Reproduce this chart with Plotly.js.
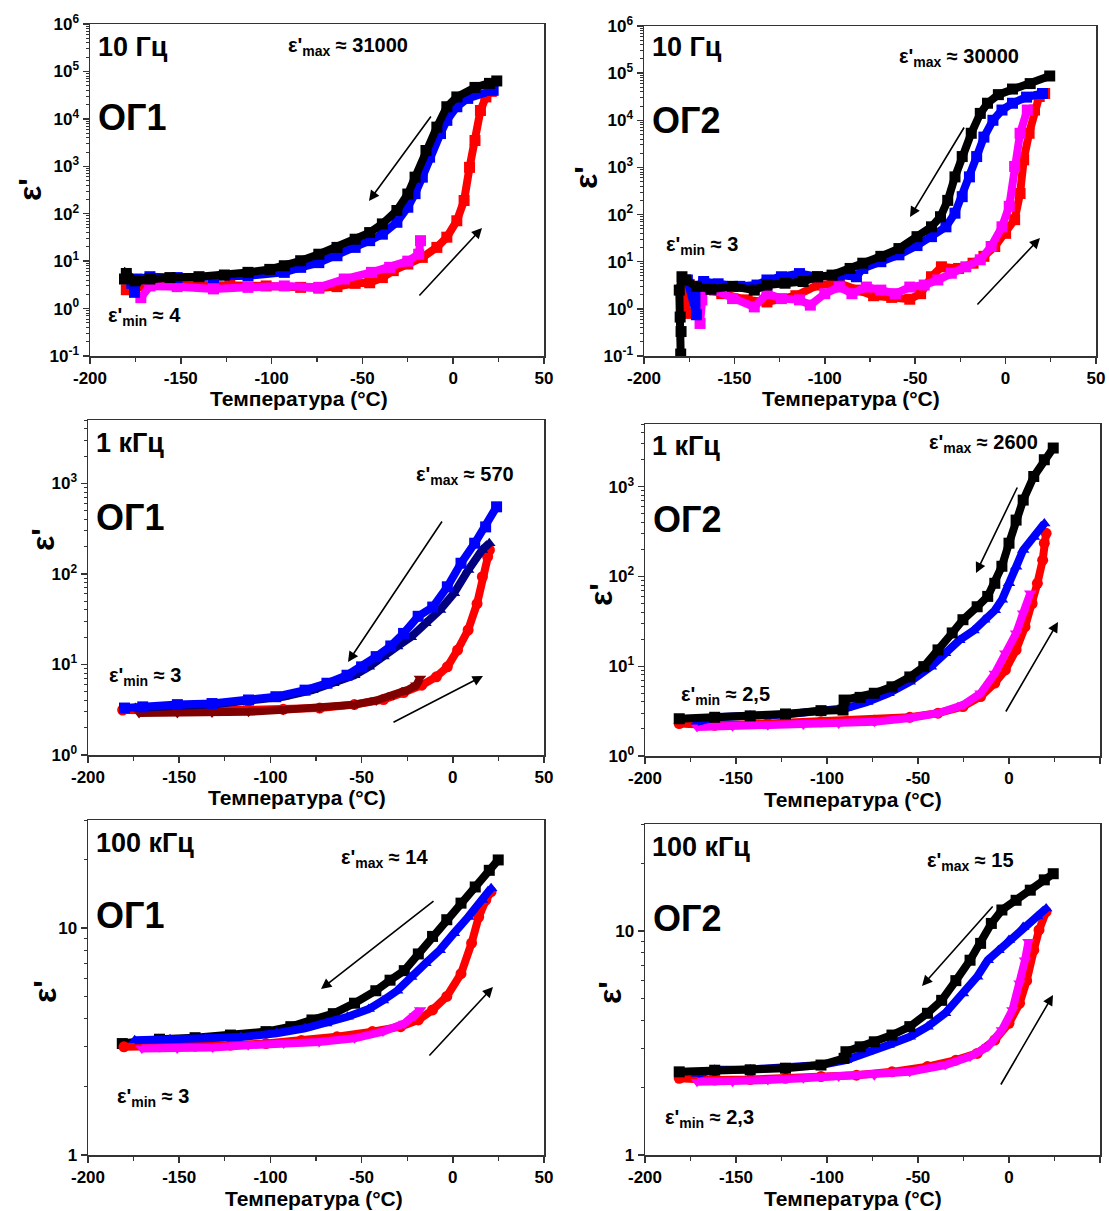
<!DOCTYPE html>
<html>
<head>
<meta charset="utf-8">
<script src="https://cdn.plot.ly/plotly-3.0.1.min.js"></script>
<style>html,body{margin:0;padding:0;background:#fff;}#chart{width:1109px;height:1211px;}</style>
</head>
<body>
<div id="chart"></div>
<script>
// ---------- DATA (temperature °C, ε') ----------
// Panel 1: 10 Гц, ОГ1
const tl_black_T = [24, 20, 12, 2, -3.5, -9, -15, -21, -25, -31, -39, -46, -54, -64, -74, -84, -93, -101, -113, -126, -140, -156, -167, -175, -180, -181];
const tl_black_E = [63000, 56000, 46000, 29000, 18000, 6700, 2150, 590, 260, 117, 61, 40, 29, 19.5, 14, 10.2, 8, 6.7, 5.8, 5.1, 4.7, 4.5, 4.2, 3.85, 5.5, 4.2];
const tl_blue_T = [22, 8, 2, -3.5, -7, -13, -17, -21, -25, -31, -39, -46, -54, -64, -74, -84, -93, -113, -132, -152, -167, -174, -175.5, -177];
const tl_blue_E = [40000, 27000, 18000, 9300, 4900, 1560, 590, 265, 137, 66, 37, 27, 19.5, 13, 9.3, 7.4, 5.8, 4.9, 4.5, 4.5, 4.7, 4.2, 2.2, 3.4];
const tl_red_T = [-180, -172, -162, -142, -123, -103, -84, -74, -64, -54, -46, -39, -33, -25, -17, -9, -3.5, 2, 6, 9, 12, 15, 18, 21];
const tl_red_E = [2.5, 3.0, 3.2, 3.2, 3.1, 3.0, 2.8, 2.7, 2.9, 3.4, 3.5, 4.5, 6.3, 8.7, 12, 19.5, 32, 71, 190, 950, 3500, 15000, 29000, 38000];
const tl_mag_T = [-172, -167, -152, -132, -113, -93, -74, -60, -45, -35, -25, -19, -18];
const tl_mag_E = [1.7, 3.0, 2.9, 2.6, 2.8, 3.0, 2.8, 4.2, 5.8, 7.4, 10, 14, 27];

// Panel 2: 10 Гц, ОГ2
const tr_black_T = [24.4, 13.6, 3.8, -4, -10, -14, -19, -24, -28, -32, -36, -41, -49, -59, -69, -79, -86, -96, -104, -112, -122, -132, -139, -151, -163, -171, -177, -179, -180.5, -180, -179.5, -179.7];
const tr_black_E = [87000, 60000, 46000, 35000, 23000, 14000, 5300, 1700, 630, 200, 90, 55, 34, 19, 13, 9.3, 7.2, 5.2, 4.8, 3.8, 3.5, 3.2, 2.5, 3.0, 2.6, 3.0, 4.1, 4.8, 2.5, 0.67, 0.33, 0.11];
const tr_blue_T = [20.4, 11.6, 3.8, -2, -7, -12, -16, -20, -24, -28, -33, -41, -49, -59, -69, -79, -82.5, -92, -104, -114, -124, -132, -137.5, -147, -159, -167, -171, -171, -176];
const tr_blue_E = [37000, 31000, 23000, 16500, 10000, 4400, 1700, 630, 240, 107, 55, 34, 22, 14, 10, 7.2, 4.8, 5.2, 4.8, 5.6, 4.8, 4.1, 3.2, 3.0, 3.4, 3.8, 3.0, 0.75, 4.1];
const tr_red_T = [-178, -177, -175, -167, -157, -143, -132, -116, -104, -92, -82.5, -73, -63, -53, -47, -41, -35.5, -26, -18, -12, -6, 0, 5, 8, 10, 13, 16, 18.6, 21.6];
const tr_red_E = [3.5, 0.8, 3.3, 2.6, 2.1, 1.55, 1.4, 1.9, 3.2, 3.5, 2.5, 1.9, 1.75, 1.6, 2.1, 4.8, 7.8, 7.2, 9.3, 13, 21, 40, 78, 280, 1450, 5300, 16500, 32000, 37000];
const tr_mag_T = [-169, -168, -167, -161, -151, -139, -132, -124, -114, -108, -100, -92, -85, -77, -69, -61, -53, -45, -37.5, -30, -22, -14, -8, -2, 2, 5, 8, 12];
const tr_mag_E = [0.49, 1.55, 3.5, 2.5, 1.65, 1.1, 2.1, 1.65, 1.55, 1.2, 2.1, 2.9, 2.1, 2.9, 2.5, 2.1, 2.9, 3.2, 4.1, 5.7, 7.8, 11, 21, 55, 150, 1050, 5300, 16500];

// Panel 3: 1 кГц, ОГ1
const ml_blue_T = [24, 18, 12, 4.5, -3, -11, -19, -27, -34, -42, -50, -58, -69, -81, -97, -112, -132, -151, -170, -180];
const ml_blue_E = [550, 330, 218, 131, 72, 43, 34, 22, 16, 12.2, 9.4, 7.6, 6.2, 5.2, 4.4, 4.05, 3.7, 3.6, 3.4, 3.3];
const ml_navy_T = [20, 16, 8.4, 0.6, -7, -15, -23, -30.5, -38, -46, -54, -65.5, -77, -93, -112, -132, -151, -174];
const ml_navy_E = [218, 183, 110, 61, 40, 28.5, 20, 15.8, 12.2, 9.4, 7.6, 6.2, 5.2, 4.4, 3.9, 3.6, 3.5, 3.3];
const ml_red_T = [-181, -170, -151, -132, -112, -93, -73, -54, -38, -27, -17, -9, -3, 2.6, 8.4, 13.3, 16.2, 19.1, 20.1];
const ml_red_E = [3.14, 3.1, 3.1, 3.1, 3.15, 3.2, 3.3, 3.6, 4.1, 4.9, 5.9, 7.3, 9.4, 14.4, 24, 47, 93, 155, 183];
const ml_maroon_T = [-172, -151, -132, -112, -93, -73, -54, -42, -32.5, -25, -20, -18];
const ml_maroon_E = [2.9, 2.9, 2.95, 3.0, 3.15, 3.3, 3.6, 4.0, 4.6, 5.2, 5.9, 7.0];

// Panel 4: 1 кГц, ОГ2
const mr_black_T = [24.3, 19.4, 13.6, 7.8, 3.9, 0, -3.9, -7.8, -11.7, -17.5, -25.3, -31.2, -39, -46.8, -54.5, -64.3, -74, -81.8, -90.6, -91.2, -103.3, -122.8, -142.2, -161.7, -181.2];
const mr_black_E = [2700, 2000, 1300, 710, 425, 235, 130, 84, 60, 46, 33, 23.5, 15.2, 9.9, 7.6, 5.9, 5.0, 4.5, 4.2, 3.25, 3.2, 2.94, 2.8, 2.7, 2.6];
const mr_blue_T = [19.4, 13.6, 7.8, 3.9, 0, -3.9, -7.8, -13.6, -19.5, -27.3, -35.1, -42.9, -54.5, -66.2, -77.9, -89.6, -103.3, -122.8, -142.2, -161.7, -171.4];
const mr_blue_E = [390, 275, 197, 128, 84, 55, 42, 33, 25, 19.5, 14, 9.9, 6.7, 5.0, 4.0, 3.4, 3.2, 2.9, 2.8, 2.7, 2.4];
const mr_red_T = [-181.2, -161.7, -132.5, -103.3, -74, -54.5, -39, -25.3, -15.6, -7.8, -2, 3.9, 8.8, 12.7, 15.6, 18.5, 19.4, 20.4];
const mr_red_E = [2.3, 2.2, 2.3, 2.4, 2.5, 2.7, 3.0, 3.55, 4.6, 6.5, 9.1, 15.2, 27.6, 50, 84, 152, 235, 303];
const mr_mag_T = [-171.4, -151.9, -132.5, -113, -93.6, -74, -54.5, -39, -25.3, -15.6, -7.8, -2, 3.9, 7.8, 11.7];
const mr_mag_E = [2.1, 2.15, 2.2, 2.25, 2.3, 2.4, 2.65, 3.0, 3.7, 5.0, 8.3, 14, 23.3, 39, 65];

// Panel 5: 100 кГц, ОГ1
const bl_black_T = [24.9, 20, 12.3, 4.5, -3.3, -11.1, -18.9, -26.6, -34.4, -42.2, -53.9, -65.5, -77.2, -88.8, -102.4, -121.9, -141.3, -160.8, -181.2];
const bl_black_E = [20, 18, 15.2, 12.9, 10.9, 9.2, 7.7, 6.5, 5.9, 5.3, 4.67, 4.2, 3.94, 3.68, 3.5, 3.38, 3.29, 3.24, 3.1];
const bl_blue_T = [21, 16.1, 8.4, 0.6, -7.2, -15, -22.8, -30.5, -38.3, -46.1, -57.7, -69.4, -81, -96.6, -116.1, -135.5, -155, -174.4];
const bl_blue_E = [15, 13.3, 11.2, 9.5, 8.0, 7.0, 6.1, 5.3, 4.8, 4.4, 4.07, 3.8, 3.62, 3.44, 3.31, 3.27, 3.24, 3.21];
const bl_red_T = [-180.3, -160.8, -141.3, -121.9, -102.4, -83, -63.5, -44.1, -28.6, -18.9, -11.1, -3.3, 4.5, 10.3, 14.2, 18.1, 21];
const bl_red_E = [3.0, 3.0, 3.02, 3.05, 3.1, 3.2, 3.32, 3.5, 3.68, 3.94, 4.36, 5.0, 6.3, 8.6, 11.2, 13.3, 14.5];
const bl_mag_T = [-170.5, -151.1, -131.6, -112.2, -92.7, -73.3, -53.9, -38.3, -26.6, -20.8, -17.9];
const bl_mag_E = [2.95, 2.95, 2.98, 3.05, 3.1, 3.15, 3.27, 3.5, 3.8, 4.1, 4.36];

// Panel 6: 100 кГц, ОГ2
const br_black_T = [24.3, 19.4, 11.7, 3.9, -3.9, -9.7, -15.6, -21.4, -29.2, -37, -44.8, -54.5, -64.3, -74, -81.8, -89.6, -90.6, -103.3, -122.8, -142.2, -161.7, -181.2];
const br_black_E = [18, 16.9, 15.2, 13.7, 12.4, 10.8, 8.8, 7.4, 6.0, 4.9, 4.29, 3.74, 3.43, 3.2, 3.04, 2.89, 2.7, 2.52, 2.44, 2.4, 2.39, 2.35];
const br_blue_T = [20.4, 15.5, 7.8, 0, -5.8, -11.7, -17.5, -25.3, -35.1, -44.8, -54.5, -66.2, -77.9, -89.6, -103.3, -122.8, -142.2, -161.7, -171.4];
const br_blue_E = [12.6, 11.6, 10.4, 9.1, 8.2, 7.4, 6.25, 5.25, 4.29, 3.74, 3.37, 3.1, 2.89, 2.65, 2.52, 2.44, 2.41, 2.4, 2.3];
const br_red_T = [-181.2, -161.7, -142.2, -122.8, -103.3, -83.8, -64.3, -44.8, -29.2, -17.5, -7.8, 0, 5.8, 9.7, 13.6, 16.5, 20.4];
const br_red_E = [2.2, 2.16, 2.17, 2.2, 2.24, 2.27, 2.35, 2.48, 2.65, 2.84, 3.26, 3.87, 4.75, 6.0, 8.2, 10.1, 12.2];
const br_mag_T = [-171.4, -151.9, -132.5, -113, -93.6, -74, -54.5, -35.1, -21.4, -11.7, -3.9, 1.9, 5.8, 8.8, 10.7];
const br_mag_E = [2.12, 2.12, 2.16, 2.2, 2.24, 2.27, 2.35, 2.52, 2.75, 3.04, 3.61, 4.44, 5.84, 7.4, 8.95];

// Labels
const freqLabels = ['10 Гц', '10 Гц', '1 кГц', '1 кГц', '100 кГц', '100 кГц'];
const sampleLabels = ['ОГ1', 'ОГ2', 'ОГ1', 'ОГ2', 'ОГ1', 'ОГ2'];
const maxLabels = ['31000', '30000', '570', '2600', '14', '15'];
const minLabels = ['4', '3', '3', '2,5', '3', '2,3'];
const xTickVals = [-200, -150, -100, -50, 0, 50];
const xTickText = ['-200', '-150', '-100', '-50', '0', '50'];
const xTitle = 'Температура (°C)';
const yTitle = "ε'";

// ---------- LAYOUT / STYLE ----------
const W = 1109, H = 1211;
const FONT = 'Arial, "Liberation Sans", sans-serif';
const AX = '#333333';
const px = v => v / W;
const py = v => 1 - v / H;

function decadeMinor(lo, hi) {
  const out = [];
  for (let d = lo; d < hi; d++) for (let m = 2; m <= 9; m++) out.push(m * Math.pow(10, d));
  return out;
}
function powLabel(e) { return '10<sup>' + e + '</sup>'; }

// pixel boxes [left, right, top, bottom]
const boxes = [
  [90, 544, 24, 356], [644, 1096, 26, 356],
  [88, 544, 420, 755], [645, 1100, 424, 756],
  [88, 544, 820, 1155], [645, 1100, 824, 1155]
];
const yRanges = [[-1, 6], [-1, 6], [0, Math.log10(5000)], [0, Math.log10(5000)], [0, Math.log10(30)], [0, Math.log10(30)]];
const yTicks = [
  {vals: [0.1, 1, 10, 100, 1e3, 1e4, 1e5, 1e6], text: ['-1', 0, 1, 2, 3, 4, 5, 6].map(powLabel), minor: decadeMinor(-1, 6)},
  {vals: [0.1, 1, 10, 100, 1e3, 1e4, 1e5, 1e6], text: ['-1', 0, 1, 2, 3, 4, 5, 6].map(powLabel), minor: decadeMinor(-1, 6)},
  {vals: [1, 10, 100, 1000], text: [0, 1, 2, 3].map(powLabel), minor: decadeMinor(0, 4)},
  {vals: [1, 10, 100, 1000], text: [0, 1, 2, 3].map(powLabel), minor: decadeMinor(0, 4)},
  {vals: [1, 10], text: ['1', '10'], minor: [2, 3, 4, 5, 6, 7, 8, 9, 20, 30]},
  {vals: [1, 10], text: ['1', '10'], minor: [2, 3, 4, 5, 6, 7, 8, 9, 20, 30]}
];
// title centres (pixels): x-title [cx, cy], y-title [cx, cy]
const xTitlePos = [[299, 398], [851, 398], [297, 797], [853, 799], [314, 1198], [853, 1198]];
const yTitlePos = [[30, 190], [586, 178], [43, 540], [601, 595], [45, 992], [610, 993]];

const RED = '#ff0000', MAG = '#ff00ff', BLUE = '#0000ff', BLK = '#000000', NAVY = '#000080', MAROON = '#800000';
const panels = [
  [[tl_red_T, tl_red_E, RED, 'square'], [tl_mag_T, tl_mag_E, MAG, 'square'], [tl_blue_T, tl_blue_E, BLUE, 'square'], [tl_black_T, tl_black_E, BLK, 'square']],
  [[tr_red_T, tr_red_E, RED, 'square'], [tr_mag_T, tr_mag_E, MAG, 'square'], [tr_blue_T, tr_blue_E, BLUE, 'square'], [tr_black_T, tr_black_E, BLK, 'square']],
  [[ml_red_T, ml_red_E, RED, 'circle'], [ml_maroon_T, ml_maroon_E, MAROON, 'triangle-down'], [ml_navy_T, ml_navy_E, NAVY, 'triangle-up'], [ml_blue_T, ml_blue_E, BLUE, 'square']],
  [[mr_red_T, mr_red_E, RED, 'circle'], [mr_mag_T, mr_mag_E, MAG, 'triangle-down'], [mr_blue_T, mr_blue_E, BLUE, 'triangle-up'], [mr_black_T, mr_black_E, BLK, 'square']],
  [[bl_black_T, bl_black_E, BLK, 'square'], [bl_red_T, bl_red_E, RED, 'circle'], [bl_mag_T, bl_mag_E, MAG, 'triangle-down'], [bl_blue_T, bl_blue_E, BLUE, 'triangle-up']],
  [[br_red_T, br_red_E, RED, 'circle'], [br_mag_T, br_mag_E, MAG, 'triangle-down'], [br_blue_T, br_blue_E, BLUE, 'triangle-up'], [br_black_T, br_black_E, BLK, 'square']]
];

// annotation pixel positions: [freq(x,y), sample(x,y), max(x,y), min(x,y)]
const textPos = [
  [[96, 47], [96, 118], [286, 47], [106, 316]],
  [[650, 47], [650, 120], [897, 57], [664, 245]],
  [[94, 443], [94, 517], [414, 475], [107, 677]],
  [[650, 446], [651, 520], [927, 443], [679, 695]],
  [[94, 843], [94, 915], [339, 858], [115, 1097]],
  [[650, 847], [651, 918], [925, 862], [663, 1118]]
];
// arrows: [headX, headY, tailX, tailY]
const arrows = [
  [[369, 201, 432, 115], [482, 228, 418, 297]],
  [[910, 217, 965, 126], [1040, 238, 976, 306]],
  [[348, 662, 443, 520], [483, 676, 392, 723]],
  [[976, 573, 1018, 486], [1058, 622, 1005, 713]],
  [[321, 989, 435, 900], [493, 987, 428, 1057]],
  [[922, 986, 994, 905], [1053, 995, 1000, 1086]]
];

const data = [];
const layout = {
  width: W, height: H,
  margin: {l: 0, r: 0, t: 0, b: 0},
  paper_bgcolor: '#ffffff', plot_bgcolor: '#ffffff',
  showlegend: false,
  font: {family: FONT, color: '#000'},
  annotations: []
};

panels.forEach((series, i) => {
  const n = i + 1;
  const xk = n === 1 ? 'xaxis' : 'xaxis' + n;
  const yk = n === 1 ? 'yaxis' : 'yaxis' + n;
  const xr = n === 1 ? 'x' : 'x' + n;
  const yr = n === 1 ? 'y' : 'y' + n;
  const b = boxes[i];
  series.forEach(s => {
    data.push({
      type: 'scatter', mode: 'lines+markers',
      x: s[0], y: s[1], xaxis: xr, yaxis: yr,
      line: {color: s[2], width: 8},
      marker: {color: s[2], symbol: s[3], size: 11, line: {width: 0}},
      hoverinfo: 'skip'
    });
  });
  layout[xk] = {
    domain: [px(b[0]), px(b[1])], anchor: yr,
    range: [-200, 50], tickvals: xTickVals, ticktext: xTickText,
    ticks: 'outside', ticklen: 6, tickwidth: 1.5, tickcolor: AX,
    showline: true, linecolor: AX, linewidth: 1.5, mirror: true,
    showgrid: false, zeroline: false,
    tickfont: {family: FONT, size: 17, color: '#000', weight: 'bold'},
    minor: {tickvals: [-175, -125, -75, -25, 25], ticks: 'outside', ticklen: 4, tickwidth: 1.2, tickcolor: AX, showgrid: false}
  };
  const yt = yTicks[i];
  layout[yk] = {
    domain: [py(b[3]), py(b[2])], anchor: xr,
    type: 'log', range: yRanges[i],
    tickvals: yt.vals, ticktext: yt.text,
    ticks: 'outside', ticklen: 6, tickwidth: 1.5, tickcolor: AX,
    showline: true, linecolor: AX, linewidth: 1.5, mirror: true,
    showgrid: false, zeroline: false,
    tickfont: {family: FONT, size: 17, color: '#000', weight: 'bold'},
    minor: {tickvals: yt.minor, ticks: 'outside', ticklen: 3, tickwidth: 1, tickcolor: AX, showgrid: false}
  };
  // axis titles
  layout.annotations.push({
    xref: 'paper', yref: 'paper', x: px(xTitlePos[i][0]), y: py(xTitlePos[i][1]),
    xanchor: 'center', yanchor: 'middle', showarrow: false,
    text: '<b>' + xTitle + '</b>', font: {family: FONT, size: 21, color: '#000'}
  });
  layout.annotations.push({
    xref: 'paper', yref: 'paper', x: px(yTitlePos[i][0]), y: py(yTitlePos[i][1]),
    xanchor: 'center', yanchor: 'middle', showarrow: false, textangle: -90,
    text: '<b>' + yTitle + '</b>', font: {family: FONT, size: 32, color: '#000'}
  });
  const tp = textPos[i];
  const add = (t, p, size) => layout.annotations.push({
    xref: 'paper', yref: 'paper', x: px(p[0]), y: py(p[1]),
    xanchor: 'left', yanchor: 'middle', showarrow: false,
    text: t, font: {family: FONT, size: size, color: '#000'}
  });
  add('<b>' + freqLabels[i] + '</b>', tp[0], 27);
  add('<b>' + sampleLabels[i] + '</b>', tp[1], 36);
  add("<b>ε'<sub>max</sub> ≈ " + maxLabels[i] + '</b>', tp[2], 20);
  add("<b>ε'<sub>min</sub> ≈ " + minLabels[i] + '</b>', tp[3], 20);
  arrows[i].forEach(a => layout.annotations.push({
    xref: 'paper', yref: 'paper', x: px(a[0]), y: py(a[1]),
    ax: a[2] - a[0], ay: a[3] - a[1], axref: 'pixel', ayref: 'pixel',
    text: '', showarrow: true, arrowhead: 2, arrowsize: 1.3, arrowwidth: 1.6,
    arrowcolor: '#000', standoff: 0, startstandoff: 0
  }));
});

Plotly.newPlot('chart', data, layout, {staticPlot: true, displayModeBar: false});
</script>
</body>
</html>
